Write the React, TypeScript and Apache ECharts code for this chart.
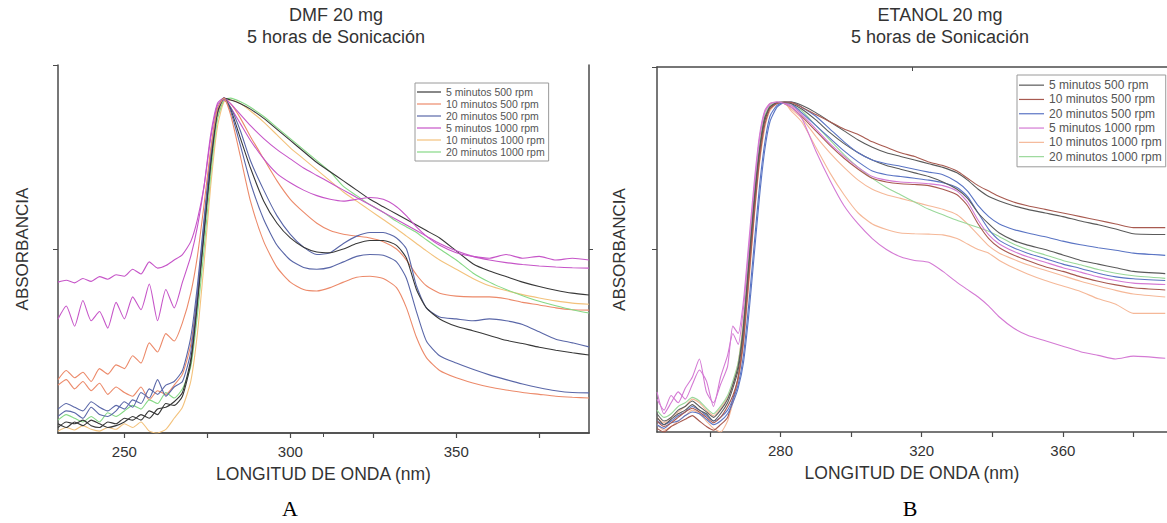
import React, { useEffect, useRef } from "react";
import * as echarts from "echarts";

// ---------- Panel A (DMF) ----------
const XA = [230, 232.5, 235, 237.5, 240, 242.5, 245, 247.5, 250, 252.5, 255, 257.5, 260, 262.5, 265, 267.5,
  270, 272, 274, 276, 278, 280, 282,
  285, 288, 292, 296, 300, 304, 308, 312, 316, 320, 324, 328, 332, 335, 338, 341, 345, 350, 355, 360, 365, 370, 375, 380, 385, 390];

const A_K1 = [1.5, 3, 2.5, 3.5, 2, 1.5, 3, 2.5, 4, 3.5, 5, 4, 6.5, 7, 8.5, 11,
  20, 36, 55, 73, 87, 91, 90.5,
  89.5, 88, 85.5, 82.5, 79.5, 76.5, 73.5, 71, 68.5, 66, 63.5, 61.5, 59.5, 58, 56.5, 55, 53, 49.5, 46, 44, 42.5, 41, 39.8, 38.8, 38, 37.5];
const A_K2 = [2.5, 1.5, 3, 2, 3.5, 2.5, 1.5, 2, 3, 4.5, 3.5, 6, 5, 8, 7.5, 10,
  19, 35, 54, 73, 87, 91, 88,
  80, 72, 63, 57, 53, 50.5, 49.2, 49, 50, 51.5, 52.3, 52.3, 51, 47.5, 39, 34, 31, 29, 27.8, 26.5, 25.2, 24.3, 23.3, 22.5, 21.8, 21.2];
const A_S = [14.5, 17, 15, 16.5, 14, 17.5, 16, 18.5, 17.5, 21, 19, 24.5, 22, 27, 25, 30,
  38, 48, 62, 77, 88, 91, 86.5,
  75, 63, 52, 45, 41, 39, 38.6, 39.5, 41, 42.3, 42.6, 42, 39.5, 34, 26, 20.5, 17, 15, 13.6, 12.5, 11.7, 11, 10.5, 10, 9.7, 9.5];
const A_O = [13, 14.5, 12, 14, 11.5, 13.5, 10.5, 12.5, 11, 10, 12.5, 9, 11.5, 10.5, 13, 16,
  24, 38, 56, 74, 86, 90.5, 89.5,
  85.5, 80.5, 74.5, 68.5, 63.5, 60, 57, 55, 54, 53.5, 53, 52, 50, 47, 43, 40, 38, 37.2, 37, 37, 36.5, 35.5, 34.8, 34, 33.5, 33.4];
const A_B1 = [4.5, 6, 5.5, 4, 7, 5, 4.5, 6, 8.5, 7, 11, 9.5, 14.5, 10, 12.5, 14,
  22, 38, 57, 75, 87, 91, 88.5,
  82, 74, 66, 59, 54, 50.5, 48.5, 49, 51.5, 53.5, 54.5, 54.5, 53, 50, 40, 34, 31.5, 31, 30.5, 31, 30.5, 29.5, 27.5, 25.5, 24.5, 23.4];
const A_B2 = [6.5, 8, 7, 6, 8.5, 7, 6, 7.5, 6.5, 9, 8, 12, 10.5, 13, 14, 17,
  26, 40, 58, 76, 88, 91, 87.5,
  78, 68, 58, 51, 47, 45, 44.5, 45, 46.5, 48, 48.5, 48.3, 46.5, 42, 33, 25, 21, 19, 17.3, 15.8, 14.5, 13.3, 12.3, 11.5, 11, 10.9];
const A_M1 = [41, 41.5, 40.8, 42, 41.2, 42.5, 41.8, 43, 42.6, 44.5, 43.2, 46.5, 44.8, 45.5, 47, 48.5,
  52, 58, 67, 80, 89, 90.5, 88.5,
  84, 79.5, 74.5, 70.5, 68, 66, 64.5, 63.5, 63, 63.5, 64, 63.5, 61.5, 59, 56, 53.5, 51, 49, 48, 47.5, 48.5, 47.5, 48, 47, 47.5, 47];
const A_M2 = [31, 34.5, 29, 36, 30.5, 33, 28.5, 35.5, 31, 37, 33.5, 40.5, 30.5, 39, 34, 41,
  48, 56, 67, 81, 89.5, 91, 89.5,
  86.5, 83.5, 80, 77, 74.5, 72, 70, 68, 66, 64, 62, 60, 58, 56.5, 55, 53.5, 51.5, 49.5, 48, 47, 46.3, 45.8, 45.4, 45.1, 44.9, 44.8];
const A_Y = [0.5, 1.5, 0.8, 2, 1, 0.5, 1.5, 1, 2.5, 1.5, 3, 0.5, 0, 1, 4, 7,
  14, 27, 46, 67, 83, 90, 90.5,
  89.5, 87.5, 84.5, 81, 77.5, 74.5, 71.5, 68.5, 65.5, 63, 60.5, 58, 55.5, 53.5, 51.5, 49.5, 47, 44.5, 42, 40, 38.7, 37.6, 36.7, 35.9, 35.3, 35];
const A_G = [3.5, 5, 4, 3, 4.5, 3, 5.5, 4.5, 6, 7.5, 6.5, 9, 8, 11, 9.5, 12,
  18, 32, 50, 70, 85, 90.5, 91,
  90, 88.5, 86, 83, 80, 77, 74, 71, 67, 64.5, 62, 60, 57.5, 56, 54.5, 52.5, 50, 47, 43.5, 41, 39, 37.3, 35.8, 34.6, 33.5, 32.6];

// ---------- Panel B (ETANOL) ----------
const XB = [245, 247, 249, 251, 253, 255, 257, 259, 261, 263, 265,
  266.5, 268, 269.5, 271, 272.5, 274, 275.5, 277, 279, 281, 283,
  286, 290, 294, 298, 302, 306, 310, 314, 318, 322, 326, 330, 333, 336, 339, 342, 346, 350, 355, 360, 365, 370, 375, 380, 389];

const B_R1 = [3, 1.5, 2.5, 4, 5.5, 6.5, 5.5, 4, 2.5, 4, 7,
  10, 15, 25, 42, 59, 74, 84, 88.5, 90, 90.4, 90.3,
  89, 87, 85, 83, 81.5, 79.5, 78, 76.5, 75.5, 74, 73, 71.5, 69.5, 67.5, 66, 64.5, 63, 62, 61, 60, 59, 58, 57, 56, 56];
const B_R2 = [4, 2, 3.5, 5, 6, 7.5, 6, 5, 3, 5, 8,
  12, 17, 28, 45, 62, 76, 85, 89, 90.2, 90.4, 90.4,
  89.5, 87.5, 85, 82.5, 80, 78, 76.5, 75.5, 74.5, 73.5, 72.5, 71, 69, 66.5, 64.5, 63.3, 62, 61, 60, 59, 57.8, 56.8, 55.6, 54.3, 54.1];
const B_R3 = [2, 1, 2.5, 3, 4.5, 5.5, 5, 3.5, 2, 3, 5,
  8, 12, 19, 32, 48, 64, 77, 85, 89, 90.3, 90.4,
  89, 86.5, 83, 79.5, 76.5, 74.5, 73.5, 72.8, 72, 71.2, 70.5, 68.5, 66, 62, 59, 57, 55.5, 54.5, 53.5, 52.3, 51.3, 50.5, 49.8, 49, 48.4];
const B_R4 = [5, 3, 4, 6, 7, 8.5, 7, 5.5, 4, 6, 9,
  13, 18, 29, 46, 63, 77, 86, 89, 90.2, 90.3, 90,
  88.5, 85.5, 82, 79, 76.5, 74.5, 73, 72, 71, 70, 68.5, 66.5, 64, 60, 57, 54.5, 52.5, 51.2, 50, 48.5, 47, 46, 45, 44, 43.4];
const B_R5 = [6, 4, 5, 7, 8, 9.5, 8.5, 6.5, 5, 7, 10,
  14, 19, 30, 47, 64, 78, 86.5, 89.5, 90.3, 90.2, 89.5,
  88, 84, 80, 76, 72.5, 69.5, 67, 65, 63, 61, 59.5, 58, 57, 56, 55, 53.5, 51.5, 50, 48.5, 47, 45.8, 44.5, 43.5, 42.8, 42.1];
const B_R6 = [11, 5, 8, 11, 9, 13, 17, 14, 7, 15, 21,
  27, 24, 34, 50, 66, 80, 87.5, 89.8, 90.4, 90.2, 89.5,
  87, 83, 79, 75.5, 72.5, 70, 69, 68.5, 68.3, 68, 67.5, 66, 63, 58, 54, 51.5, 49.5, 48, 46.5, 45, 43.8, 42.5, 41.5, 40.8, 40.4];
const B_R7 = [1, 0, 1.5, 2.5, 3.5, 4.5, 3, 1.5, 0.5, 2, 4,
  9, 15, 26, 43, 61, 76, 85.5, 89, 90.2, 90, 89,
  86.5, 82.5, 78.5, 75, 72, 69.5, 68.5, 68, 67.8, 67.5, 66.5, 65, 62, 57, 53, 50.5, 48.5, 47, 45.3, 44, 42.5, 41.3, 40.3, 39.5, 38.9];
const B_R11 = [3, 2, 3, 4.5, 5.5, 7, 6, 4.5, 3, 4, 6,
  9, 13, 21, 35, 51, 67, 79, 86.5, 89.5, 90.3, 90,
  87.5, 84, 80.5, 77, 74, 71.5, 70.5, 70, 69.5, 69, 68.3, 67, 64.5, 60, 55.5, 52.5, 50.5, 49, 47.5, 46, 44.8, 43.5, 42.5, 42, 41.5];
const B_R8 = [4, 2.5, 4, 5.5, 7, 9, 8, 6, 4.5, 6.5, 9.5,
  13, 19, 31, 49, 66, 80, 87.5, 90, 90.4, 90, 88.5,
  86, 81, 76.5, 72.5, 69, 66.5, 65, 64, 63, 62, 61, 59.5, 57, 54, 51, 49, 47.3, 45.8, 44.3, 42.8, 41.3, 40, 38.8, 37.8, 37];
const B_R9 = [2, 0.5, 1.5, 3, 4.5, 6, 5, 3, 1, 0, 3,
  8, 14, 24, 40, 58, 73, 83, 88, 90, 90.2, 88,
  85, 78, 71, 65, 60, 57, 55.5, 54.5, 54.3, 54.2, 54, 53, 51.5, 50, 49, 47, 45, 43.3, 41.5, 40, 38.5, 36.5, 35, 32.5, 32.5];
const B_R10 = [9, 6, 10, 8, 12, 15, 20, 11, 8, 13, 18,
  29, 27, 36, 52, 68, 81, 88, 90, 90.4, 90, 89,
  86, 77, 69, 62, 57, 53, 50, 48, 47, 46.5, 44, 41, 39, 37, 34.5, 31.5, 28.5, 26.5, 25, 23.5, 22, 21, 20, 20.8, 20.2];

const NAMES = ["5 minutos 500 rpm", "10 minutos 500 rpm", "20 minutos 500 rpm", "5 minutos 1000 rpm", "10 minutos 1000 rpm", "20 minutos 1000 rpm"];
const COLORS_A = ["#383838", "#ec8a6a", "#5a67a8", "#c655c8", "#f3c27c", "#86d986"];
const COLORS_B = ["#5a5a5a", "#a85a50", "#5a74c4", "#d47ad4", "#f5b898", "#9ad89a"];

const X_TICKS_A = [250, 275, 300, 325, 350, 375];
const X_LABELS_A = [250, 300, 350];
const X_TICKS_B = [260, 280, 300, 320, 340, 360, 380];
const X_LABELS_B = [280, 320, 360];

const FONT = '"Liberation Sans", Arial, Helvetica, sans-serif';

// [data, legend index]
const CURVES_A: [number[], number][] = [
  [A_Y, 4], [A_O, 1], [A_G, 5], [A_K1, 0], [A_M2, 3], [A_M1, 3], [A_B1, 2], [A_K2, 0], [A_B2, 2], [A_S, 1],
];
const CURVES_B: [number[], number][] = [
  [B_R9, 4], [B_R8, 4], [B_R5, 5], [B_R7, 1], [B_R6, 3], [B_R11, 2], [B_R4, 0], [B_R3, 2], [B_R2, 0], [B_R1, 1], [B_R10, 3],
];

export default function App() {
  const ref = useRef<HTMLDivElement>(null);
  useEffect(() => {
    if (!ref.current) return;
    const chart = echarts.init(ref.current, undefined, { renderer: "svg" });
    const axisLine = { show: true, lineStyle: { color: "#4a4a4a", width: 1.5 } };
    const mk = (xs: number[], ys: number[]) => xs.map((x, i) => [x, ys[i]]);
    const series: any[] = [];
    CURVES_A.forEach(([ys, li]) => {
      series.push({
        type: "line", name: NAMES[li], xAxisIndex: 0, yAxisIndex: 0,
        data: mk(XA, ys), showSymbol: false, smooth: 0.2, silent: true,
        lineStyle: { width: 1.1, color: COLORS_A[li] }, itemStyle: { color: COLORS_A[li] },
      });
    });
    CURVES_B.forEach(([ys, li]) => {
      series.push({
        type: "line", name: NAMES[li], xAxisIndex: 2, yAxisIndex: 2,
        data: mk(XB, ys), showSymbol: false, smooth: 0.2, silent: true,
        lineStyle: { width: 1.1, color: COLORS_B[li] }, itemStyle: { color: COLORS_B[li] },
      });
    });
    const legendBase = {
      orient: "vertical", icon: "rect", itemGap: 0, selectedMode: false,
      borderColor: "#9a9a9a", borderWidth: 1, backgroundColor: "#fff",
    };
    const titleStyle = (text: string) => ({ text, fontSize: 18, fontFamily: FONT, fill: "#333", align: "center", verticalAlign: "middle" });
    const capStyle = (text: string) => ({ text, fontSize: 22, fontFamily: '"Liberation Serif", "Times New Roman", serif', fill: "#000", align: "center", verticalAlign: "middle" });
    chart.setOption({
      animation: false,
      backgroundColor: "#fff",
      grid: [
        { left: 58, top: 65, width: 531, height: 368 },
        { left: 657, top: 67, width: 522, height: 365 },
      ],
      xAxis: [
        {
          gridIndex: 0, type: "value", min: 230, max: 390, position: "bottom",
          axisLine, splitLine: { show: false },
          axisTick: { show: true, customValues: X_TICKS_A, length: 5, lineStyle: { color: "#4a4a4a", width: 1.2 } },
          axisLabel: { customValues: X_LABELS_A, fontSize: 15, color: "#333", margin: 11, fontFamily: FONT },
          name: "LONGITUD DE ONDA (nm)", nameLocation: "middle", nameGap: 32,
          nameTextStyle: { fontSize: 17.5, color: "#333", fontFamily: FONT },
        },
        {
          gridIndex: 0, type: "value", min: 230, max: 390, position: "top",
          axisLine, splitLine: { show: false },
          axisTick: { show: true, inside: true, customValues: [310], length: 4, lineStyle: { color: "#4a4a4a" } },
          axisLabel: { show: false },
        },
        {
          gridIndex: 1, type: "value", min: 245, max: 389.5, position: "bottom",
          axisLine, splitLine: { show: false },
          axisTick: { show: true, customValues: X_TICKS_B, length: 5, lineStyle: { color: "#4a4a4a", width: 1.2 } },
          axisLabel: { customValues: X_LABELS_B, fontSize: 15, color: "#333", margin: 11, fontFamily: FONT },
          name: "LONGITUD DE ONDA (nm)", nameLocation: "middle", nameGap: 32,
          nameTextStyle: { fontSize: 17.5, color: "#333", fontFamily: FONT },
        },
        {
          gridIndex: 1, type: "value", min: 245, max: 389.5, position: "top",
          axisLine, splitLine: { show: false },
          axisTick: { show: true, inside: true, customValues: [317.25], length: 4, lineStyle: { color: "#4a4a4a" } },
          axisLabel: { show: false },
        },
      ],
      yAxis: [
        {
          gridIndex: 0, type: "value", min: 0, max: 100, position: "left",
          axisLine, splitLine: { show: false },
          axisTick: { show: true, customValues: [50, 100], length: 5, lineStyle: { color: "#4a4a4a" } },
          axisLabel: { show: false },
          name: "ABSORBANCIA", nameLocation: "middle", nameGap: 27, nameRotate: 90,
          nameTextStyle: { fontSize: 17, color: "#333", fontFamily: FONT },
        },
        {
          gridIndex: 0, type: "value", min: 0, max: 100, position: "right",
          axisLine, splitLine: { show: false },
          axisTick: { show: true, customValues: [50], length: 4, lineStyle: { color: "#4a4a4a" } },
          axisLabel: { show: false },
        },
        {
          gridIndex: 1, type: "value", min: 0, max: 100, position: "left",
          axisLine, splitLine: { show: false },
          axisTick: { show: true, customValues: [50, 100], length: 5, lineStyle: { color: "#4a4a4a" } },
          axisLabel: { show: false },
          name: "ABSORBANCIA", nameLocation: "middle", nameGap: 29, nameRotate: 90,
          nameTextStyle: { fontSize: 17, color: "#333", fontFamily: FONT },
        },
      ],
      legend: [
        {
          ...legendBase, left: 415, top: 83, itemWidth: 24, itemHeight: 1.2,
          padding: [3, 4, 3, 2],
          textStyle: { fontSize: 10.5, color: "#555", lineHeight: 12, fontFamily: FONT },
          data: NAMES.map((n, i) => ({ name: n, itemStyle: { color: COLORS_A[i] } })),
        },
        {
          ...legendBase, left: 1017, top: 75, itemWidth: 25, itemHeight: 1.2,
          padding: [3, 4, 3, 2],
          textStyle: { fontSize: 12, color: "#555", lineHeight: 14.3, fontFamily: FONT },
          data: NAMES.map((n, i) => ({ name: n, itemStyle: { color: COLORS_B[i] } })),
        },
      ],
      graphic: [
        { type: "text", x: 336, y: 15, style: titleStyle("DMF 20 mg") },
        { type: "text", x: 336, y: 37, style: titleStyle("5 horas de Sonicación") },
        { type: "text", x: 940, y: 15, style: titleStyle("ETANOL 20 mg") },
        { type: "text", x: 940, y: 37, style: titleStyle("5 horas de Sonicación") },
        { type: "text", x: 290, y: 508, style: capStyle("A") },
        { type: "text", x: 910, y: 508, style: capStyle("B") },
      ],
      series,
    });
    return () => chart.dispose();
  }, []);
  return <div ref={ref} style={{ position: "absolute", left: 0, top: 0, width: 1167, height: 523 }} />;
}
